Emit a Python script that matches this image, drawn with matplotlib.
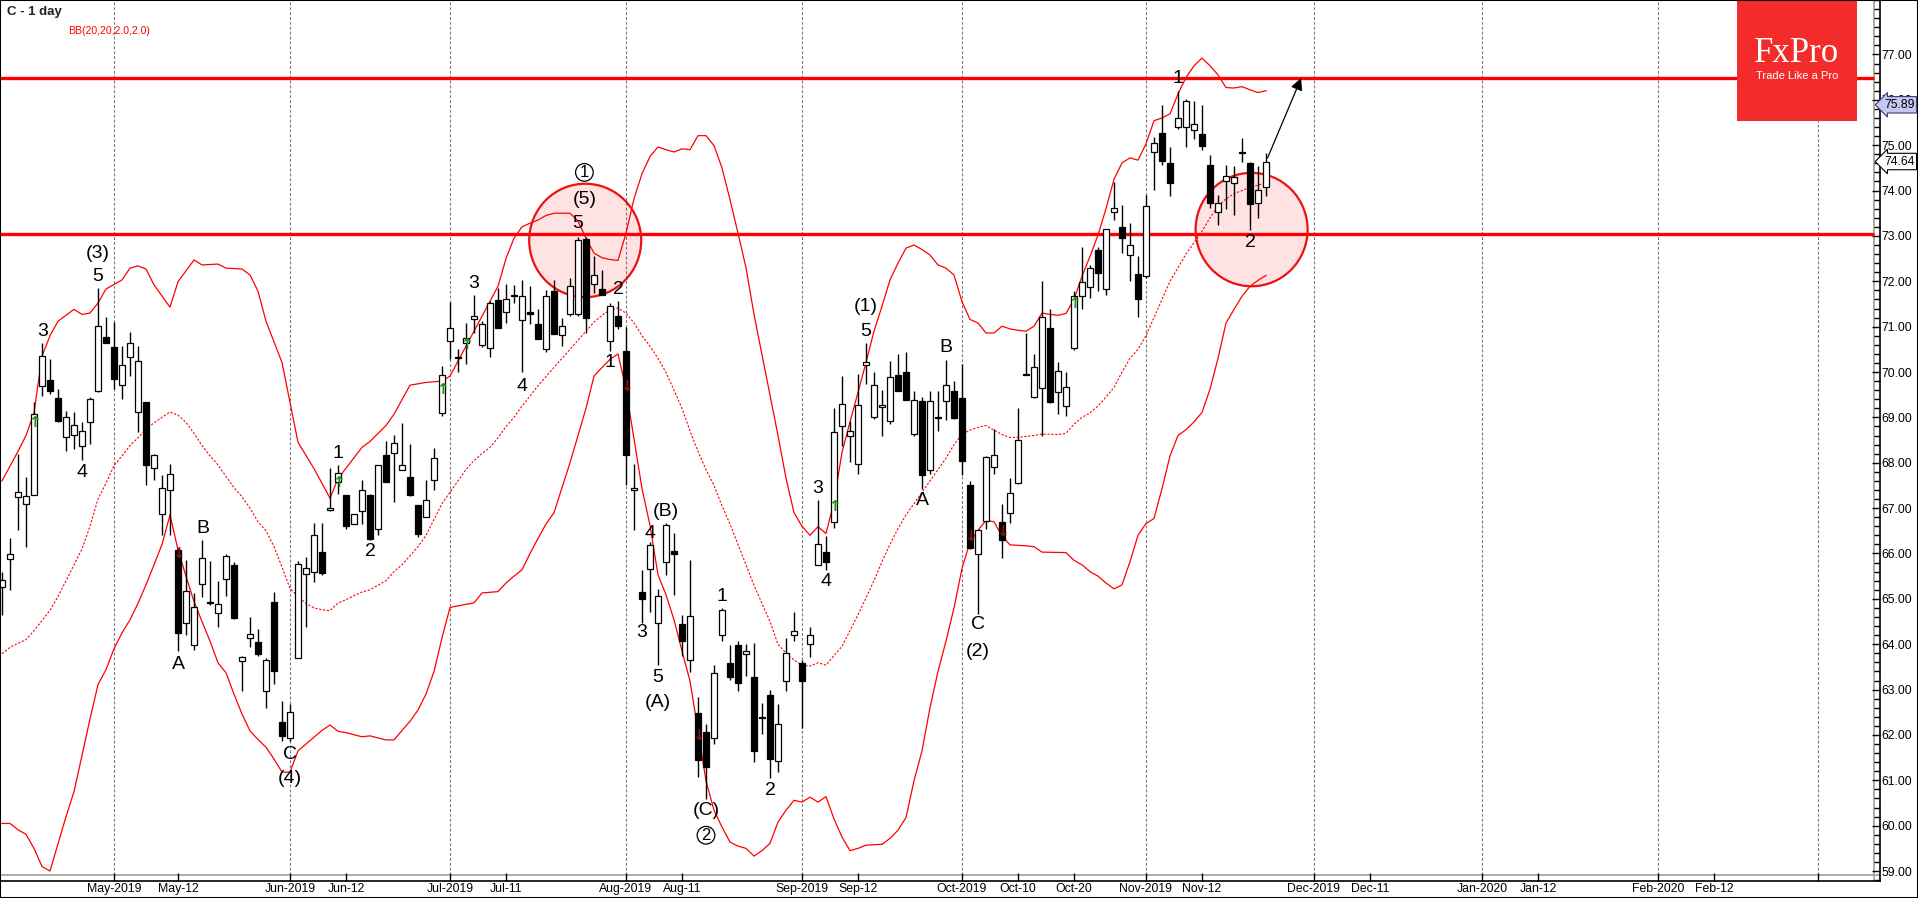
import numpy as np
import matplotlib.pyplot as plt
from matplotlib.patches import Ellipse, Rectangle
from matplotlib.transforms import blended_transform_factory

plt.rcParams['font.family'] = ['Liberation Sans', 'DejaVu Sans']

# daily candles, Citigroup (C), 2019-04-10 .. 2019-11-22 (bar index 0..158)
opens = [65.26, 65.88, 67.25, 67.10, 67.30, 69.69, 69.83, 69.42, 68.56, 68.62,
         68.38, 68.89, 69.58, 70.77, 70.55, 69.72, 70.33, 69.12, 69.33, 67.89,
         66.88, 67.41, 66.08, 64.47, 63.99, 65.33, 64.93, 64.69, 65.44, 65.75,
         63.63, 64.14, 64.06, 62.98, 64.94, 62.29, 61.93, 63.69, 65.55, 65.59,
         66.04, 66.95, 67.57, 67.30, 66.66, 66.93, 67.30, 66.54, 68.16, 68.22,
         67.85, 67.68, 67.06, 66.81, 67.63, 69.10, 70.68, 70.34, 70.63, 71.17,
         70.59, 70.52, 71.58, 71.32, 71.69, 71.14, 71.32, 71.05, 70.50, 71.78,
         70.81, 71.28, 71.27, 72.93, 71.94, 71.83, 70.68, 71.24, 70.46, 67.39,
         65.16, 65.66, 64.47, 65.82, 66.05, 64.45, 63.66, 62.48, 62.06, 61.93,
         64.21, 63.58, 63.99, 63.79, 63.28, 62.37, 62.87, 61.42, 63.20, 64.21,
         63.59, 64.01, 65.75, 66.04, 66.70, 68.80, 68.58, 67.98, 70.16, 69.00,
         69.23, 68.91, 69.93, 69.99, 68.63, 69.37, 67.83, 69.01, 69.37, 69.58,
         69.42, 67.52, 65.99, 66.71, 67.90, 66.70, 66.90, 67.56, 69.96, 69.44,
         69.64, 70.97, 69.55, 69.24, 70.54, 71.67, 71.87, 72.68, 71.84, 73.53,
         73.19, 72.57, 72.16, 72.11, 74.85, 75.27, 74.61, 75.40, 75.40, 75.34,
         75.25, 74.57, 73.53, 74.21, 74.17, 74.85, 74.61, 73.73, 74.08]
highs = [65.60, 66.35, 68.20, 67.68, 69.33, 70.65, 70.29, 69.62, 69.15, 69.12,
         68.89, 69.44, 71.85, 71.21, 71.10, 70.57, 70.88, 70.57, 69.33, 68.20,
         67.73, 67.98, 66.11, 65.86, 65.13, 66.29, 65.83, 65.40, 65.98, 65.82,
         63.74, 64.61, 64.34, 63.70, 65.15, 62.75, 62.69, 65.83, 65.93, 66.68,
         66.68, 67.88, 67.94, 67.30, 66.88, 67.61, 67.32, 67.94, 68.49, 68.61,
         68.87, 68.41, 67.06, 67.61, 68.32, 70.13, 71.54, 70.50, 71.08, 71.70,
         71.12, 71.56, 71.85, 71.94, 71.92, 72.03, 71.89, 71.39, 71.80, 72.03,
         71.19, 72.07, 72.98, 72.98, 72.55, 72.25, 71.52, 71.56, 71.00, 67.98,
         65.64, 66.25, 65.22, 66.68, 66.46, 64.64, 65.86, 62.84, 62.25, 63.55,
         64.80, 63.98, 64.07, 64.01, 64.03, 62.71, 62.99, 62.69, 64.14, 64.72,
         63.66, 64.38, 67.19, 66.39, 69.20, 69.91, 68.93, 69.95, 70.65, 70.00,
         69.61, 70.24, 70.39, 70.44, 69.58, 69.44, 69.58, 69.58, 70.26, 69.80,
         70.17, 67.60, 66.55, 68.14, 68.74, 67.08, 67.66, 69.20, 70.85, 70.39,
         72.00, 71.38, 70.22, 70.01, 71.78, 72.76, 72.36, 72.76, 73.15, 74.19,
         73.69, 73.28, 72.55, 73.90, 75.18, 75.89, 74.96, 76.20, 76.02, 75.97,
         75.89, 74.79, 73.91, 74.56, 74.54, 75.16, 74.63, 74.54, 74.82]
lows = [64.65, 65.20, 66.51, 66.15, 67.28, 69.47, 69.51, 68.90, 68.27, 68.31,
        68.05, 68.42, 69.56, 70.65, 69.62, 69.40, 69.91, 68.67, 67.50, 67.61,
        66.40, 66.40, 63.85, 64.21, 63.88, 65.05, 64.87, 64.39, 65.07, 64.56,
        62.97, 63.93, 63.74, 62.60, 63.12, 61.86, 61.86, 63.69, 64.37, 65.38,
        65.53, 66.93, 67.32, 66.55, 66.66, 66.66, 66.30, 66.41, 67.57, 67.14,
        67.85, 67.27, 66.37, 66.81, 67.41, 69.02, 70.28, 69.99, 70.17, 70.86,
        70.55, 70.32, 70.97, 71.08, 71.52, 69.99, 71.05, 70.72, 70.44, 70.83,
        70.57, 71.23, 71.23, 70.86, 71.74, 71.70, 70.46, 70.94, 67.50, 66.52,
        64.47, 64.72, 63.54, 65.53, 65.09, 63.74, 63.39, 61.08, 60.59, 61.80,
        64.07, 63.22, 62.97, 63.30, 61.40, 62.03, 61.05, 61.18, 62.97, 64.07,
        62.16, 63.71, 65.75, 65.64, 66.57, 68.38, 68.01, 67.76, 69.73, 68.96,
        68.58, 68.85, 69.58, 69.39, 68.60, 67.43, 67.76, 68.71, 68.95, 68.96,
        67.72, 66.10, 64.67, 66.55, 67.76, 65.91, 66.68, 67.54, 69.93, 69.42,
        68.60, 69.31, 69.07, 69.04, 70.48, 71.38, 71.63, 71.78, 71.70, 73.35,
        72.62, 72.01, 71.22, 72.07, 74.01, 74.56, 73.88, 75.36, 74.96, 75.14,
        74.90, 73.61, 73.24, 73.59, 73.46, 74.63, 73.13, 73.40, 73.88]
closes = [65.42, 65.99, 67.36, 67.26, 69.07, 70.35, 69.58, 68.93, 69.01, 68.83,
          68.71, 69.40, 71.01, 70.65, 69.84, 70.15, 70.63, 70.24, 67.95, 68.18,
          67.45, 67.76, 64.25, 65.18, 64.81, 65.91, 64.90, 64.89, 65.94, 64.58,
          63.71, 64.23, 63.79, 63.66, 63.41, 61.98, 62.51, 65.77, 65.67, 66.40,
          65.56, 67.00, 67.78, 66.61, 66.88, 67.41, 66.33, 67.94, 67.57, 68.44,
          67.94, 67.30, 66.42, 67.17, 68.11, 69.93, 70.96, 70.30, 70.74, 71.23,
          71.05, 71.52, 70.97, 71.60, 71.67, 71.67, 71.28, 70.72, 71.67, 70.83,
          71.01, 71.90, 72.90, 71.19, 72.14, 71.70, 71.46, 71.02, 68.18, 67.44,
          65.00, 66.19, 65.07, 66.62, 65.99, 64.08, 64.63, 61.45, 61.30, 63.37,
          64.76, 63.28, 63.15, 63.84, 61.64, 62.39, 61.47, 62.24, 63.81, 64.30,
          63.19, 64.20, 66.21, 65.81, 68.67, 69.29, 68.69, 69.27, 70.22, 69.71,
          69.27, 69.89, 69.58, 69.39, 69.39, 67.74, 69.37, 68.99, 69.71, 68.99,
          68.03, 66.11, 66.51, 68.12, 68.18, 66.30, 67.34, 68.51, 69.94, 70.11,
          71.21, 69.34, 70.02, 69.66, 71.68, 71.99, 72.30, 72.19, 73.15, 73.61,
          72.96, 72.79, 71.60, 73.66, 75.05, 74.65, 74.17, 75.59, 75.97, 75.47,
          74.99, 73.73, 73.73, 74.31, 74.30, 74.83, 73.70, 74.02, 74.64]

# Bollinger bands (20, 2.0)
upper_x = [0, 2, 3, 4, 5, 6, 7, 9, 10, 11, 12, 13, 15, 16, 17, 18, 19, 21, 22, 24,
           25, 27, 28, 30, 31, 32, 33, 35, 36, 37, 39, 41, 42, 45, 46, 48, 49, 51, 53, 55,
           56, 58, 60, 62, 63, 64, 65, 66, 67, 68, 69, 70, 71, 72, 73, 74, 75, 76, 77, 78,
           79, 80, 81, 82, 83, 84, 85, 86, 87, 88, 89, 90, 91, 92, 93, 94, 95, 96, 97, 98,
           99, 100, 101, 102, 103, 104, 105, 106, 107, 108, 109, 110, 111, 112, 113, 114, 115, 116, 117, 118,
           119, 120, 121, 122, 123, 124, 125, 126, 127, 128, 129, 130, 131, 132, 133, 134, 135, 136, 137, 138,
           139, 140, 141, 142, 143, 144, 145, 146, 147, 148, 149, 150, 151, 152, 153, 154, 155, 156, 157, 158]
upper_y = [67.60, 68.25, 68.60, 69.10, 70.35, 70.80, 71.12, 71.38, 71.27, 71.30, 71.52, 71.83, 72.03, 72.29, 72.34, 72.27, 71.92, 71.43, 71.99, 72.47,
           72.36, 72.38, 72.29, 72.27, 72.14, 71.78, 71.12, 70.21, 69.33, 68.45, 67.87, 67.22, 67.65, 68.34, 68.47, 68.82, 69.07, 69.71, 69.77, 69.80,
           69.91, 70.57, 71.23, 71.89, 72.50, 72.95, 73.20, 73.28, 73.35, 73.45, 73.50, 73.50, 73.50, 73.33, 72.95, 72.62, 72.52, 72.48, 72.46, 73.06,
           73.82, 74.37, 74.75, 74.96, 74.90, 74.85, 74.92, 74.90, 75.21, 75.21, 74.99, 74.50, 73.80, 73.06, 72.30, 71.27, 70.38, 69.50, 68.60, 67.66,
           66.90, 66.60, 66.40, 66.59, 66.44, 67.14, 68.23, 68.90, 69.55, 70.21, 70.90, 71.45, 72.03, 72.40, 72.73, 72.80, 72.70, 72.58, 72.36, 72.29,
           72.14, 71.55, 71.16, 71.08, 70.86, 70.86, 71.01, 70.95, 70.92, 70.90, 71.01, 71.30, 71.27, 71.25, 71.29, 71.60, 72.11, 72.55, 73.02, 73.60,
           74.25, 74.61, 74.72, 74.67, 75.03, 75.54, 75.60, 75.69, 76.13, 76.49, 76.75, 76.92, 76.75, 76.55, 76.27, 76.26, 76.29, 76.22, 76.16, 76.20]

mid_x = list(range(0, 159))
mid_y = [63.79, 63.93, 64.02, 64.10, 64.30, 64.52, 64.75, 65.05, 65.40, 65.75,
         66.10, 66.60, 67.20, 67.55, 67.94, 68.15, 68.38, 68.55, 68.74, 68.88,
         69.00, 69.12, 69.05, 68.89, 68.65, 68.38, 68.15, 67.95, 67.70, 67.45,
         67.25, 67.00, 66.70, 66.50, 66.15, 65.70, 65.23, 65.05, 64.90, 64.80,
         64.76, 64.74, 64.91, 64.98, 65.07, 65.15, 65.20, 65.30, 65.40, 65.60,
         65.75, 65.95, 66.15, 66.40, 66.75, 67.10, 67.35, 67.60, 67.85, 68.05,
         68.20, 68.34, 68.55, 68.80, 69.00, 69.25, 69.47, 69.70, 69.90, 70.10,
         70.30, 70.50, 70.70, 70.90, 71.10, 71.25, 71.37, 71.41, 71.30, 71.08,
         70.80, 70.57, 70.30, 69.99, 69.60, 69.20, 68.70, 68.25, 67.85, 67.50,
         67.05, 66.65, 66.20, 65.75, 65.30, 64.90, 64.50, 64.00, 63.80, 63.65,
         63.54, 63.52, 63.59, 63.54, 63.75, 63.95, 64.30, 64.65, 65.02, 65.40,
         65.82, 66.20, 66.55, 66.85, 67.10, 67.35, 67.60, 67.85, 68.10, 68.40,
         68.63, 68.72, 68.78, 68.82, 68.72, 68.62, 68.56, 68.56, 68.58, 68.60,
         68.63, 68.63, 68.62, 68.65, 68.85, 69.00, 69.10, 69.25, 69.45, 69.66,
         70.00, 70.30, 70.50, 70.80, 71.20, 71.60, 72.00, 72.30, 72.60, 72.85,
         73.10, 73.40, 73.65, 73.82, 73.93, 74.00, 74.07, 74.12, 74.17]

lower_x = [0, 1, 2, 3, 4, 5, 6, 7, 8, 9, 10, 11, 12, 13, 14, 15, 16, 17, 18, 19,
           20, 21, 22, 23, 24, 25, 26, 27, 28, 29, 30, 31, 32, 33, 34, 35, 36, 37, 38, 39,
           40, 41, 42, 43, 45, 46, 48, 49, 50, 51, 52, 53, 54, 55, 56, 58, 59, 60, 62, 63,
           64, 65, 66, 67, 68, 69, 70, 71, 72, 73, 74, 75, 76, 77, 78, 79, 80, 81, 82, 83,
           84, 85, 86, 87, 88, 89, 90, 91, 92, 93, 94, 95, 96, 97, 98, 99, 100, 101, 102, 103,
           104, 105, 106, 107, 108, 109, 110, 111, 112, 113, 114, 115, 116, 117, 118, 119, 120, 121, 122, 123,
           124, 125, 126, 128, 129, 130, 133, 134, 135, 136, 137, 138, 139, 140, 141, 142, 143, 144, 145, 146,
           147, 148, 149, 150, 151, 152, 153, 154, 155, 156, 157, 158]
lower_y = [60.05, 60.05, 59.91, 59.81, 59.50, 59.10, 59.00, 59.60, 60.20, 60.75, 61.55, 62.35, 63.11, 63.44, 63.90, 64.25, 64.54, 64.90, 65.31, 65.75,
           66.20, 66.85, 66.08, 65.50, 64.94, 64.50, 64.07, 63.59, 63.37, 62.90, 62.46, 62.09, 61.90, 61.73, 61.47, 61.18, 61.18, 61.65, 61.80, 61.95,
           62.10, 62.22, 62.08, 62.05, 61.96, 61.98, 61.89, 61.89, 62.10, 62.30, 62.55, 62.90, 63.40, 64.14, 64.81, 64.88, 64.91, 65.13, 65.16, 65.35,
           65.50, 65.64, 66.00, 66.33, 66.65, 66.90, 67.45, 68.00, 68.60, 69.20, 69.91, 70.10, 70.28, 70.40, 69.62, 68.52, 67.43, 66.62, 65.53, 65.09,
           64.54, 63.85, 63.19, 62.10, 60.99, 60.34, 59.97, 59.64, 59.55, 59.50, 59.33, 59.45, 59.61, 60.08, 60.34, 60.56, 60.52, 60.63, 60.52, 60.64,
           60.15, 59.75, 59.45, 59.50, 59.57, 59.58, 59.59, 59.72, 59.90, 60.18, 60.99, 61.65, 62.60, 63.40, 64.07, 64.80, 65.67, 66.25, 66.51, 66.73,
           66.70, 66.38, 66.19, 66.17, 66.15, 66.03, 66.02, 65.85, 65.75, 65.60, 65.50, 65.35, 65.22, 65.31, 65.82, 66.40, 66.66, 66.77, 67.43, 68.15,
           68.60, 68.73, 68.90, 69.11, 69.62, 70.30, 71.08, 71.38, 71.67, 71.89, 72.02, 72.13]

# key levels
support_level = 73.05
target_level = 76.47

# x axis: bar index of ticks (trading days, future days continue on weekdays)
tick_pos = [14, 22, 36, 43, 56, 63, 78, 85, 100, 107, 120, 127, 134, 143, 150,
            164, 171, 185, 192, 207, 214, 227]
tick_text = ['May-2019', 'May-12', 'Jun-2019', 'Jun-12', 'Jul-2019', 'Jul-11',
             'Aug-2019', 'Aug-11', 'Sep-2019', 'Sep-12', 'Oct-2019', 'Oct-10',
             'Oct-20', 'Nov-2019', 'Nov-12', 'Dec-2019', 'Dec-11', 'Jan-2020',
             'Jan-12', 'Feb-2020', 'Feb-12', '']
month_starts = [14, 36, 56, 78, 100, 120, 143, 164, 185, 207, 227]

# Elliott wave labels
wave_text = ['(3)', '5', '3', '4', 'A', 'B', 'C', '(4)', '1', '2', '3', '4',
             '(5)', '5', '2', '1', '3', '4', '5', '(A)', '(B)', '1', '(C)', '2',
             '3', '4', '(1)', '5', 'A', 'B', 'C', '(2)', '1', '2']
wave_x = [12, 12, 5.1, 10, 22, 25.1, 36, 36, 42, 46, 59, 65,
          72.8, 71.9, 77, 76, 80, 81, 82, 82, 83, 90, 88, 96,
          102, 103, 108, 108, 115, 118, 122, 122, 147, 156]
wave_y = [72.62, 72.11, 70.90, 67.78, 63.55, 66.55, 61.58, 61.03, 68.20, 66.04, 71.96, 69.69,
          73.81, 73.28, 71.81, 70.22, 64.25, 66.44, 63.26, 62.71, 66.93, 65.05, 60.34, 60.78,
          67.43, 65.38, 71.45, 70.90, 67.17, 70.53, 64.43, 63.85, 76.46, 72.85]
circled_text = ['1', '2']
circled_x = [72.8, 88]
circled_y = [74.40, 59.79]

# band signal arrows
buy_x = [4, 42, 55, 58, 104, 134]
buy_y = [68.89, 67.57, 69.62, 70.61, 67.03, 71.52]
sell_x = [22, 78, 87, 121, 125]
sell_y = [66.00, 69.69, 61.98, 66.37, 66.48]

circle_x = [72.9, 156.2]
circle_y = [72.90, 73.14]

arrow_from = (158.2, 74.72)
arrow_to = (162.4, 76.48)

W, H = 1918, 898
fig = plt.figure(figsize=(W / 100, H / 100), dpi=100)
fig.patch.set_facecolor('white')
ax = fig.add_axes([0, 17 / H, 1880 / W, 881 / H])
ax.set_xlim(-0.25, 234.75)
ax.set_ylim(58.781, 78.101)

for s in ax.spines.values():
    s.set_color('black')
    s.set_linewidth(1.2)

# inner plot frame
ax.axvline(234.0, color='#a8a898', lw=1.3, zorder=1)
ax.axhline(58.912, color='#a8a898', lw=1.3, zorder=1)

for m in month_starts:
    ax.plot([m, m], [58.912, 78.2], color='#7a7a7a', lw=0.8,
            dashes=(2.6, 1.8), zorder=1)

# key horizontal levels
ax.hlines([support_level, target_level], -0.25, 234.0, color='#ff0000', lw=2.4, zorder=2)

# bollinger bands
ax.plot(upper_x, upper_y, color='#ff0000', lw=0.9, zorder=2)
ax.plot(lower_x, lower_y, color='#ff0000', lw=0.9, zorder=2)
ax.plot(mid_x, mid_y, color='#ff0000', lw=0.8, dashes=(2, 1.5), zorder=2)

# highlight circles
for cx, cy in zip(circle_x, circle_y):
    ax.add_patch(Ellipse((cx, cy), width=14, height=2.5, facecolor=(1, 0, 0, 0.11),
                         edgecolor='#ee1111', lw=1.6, zorder=2.5))

# candles
x = np.arange(len(closes))
o = np.array(opens)
c = np.array(closes)
up = c >= o
bottoms = np.minimum(o, c)
heights = np.maximum(np.abs(c - o), 0.02)
ax.vlines(x, lows, highs, color='black', lw=1.0, zorder=3)
ax.bar(x[up], heights[up], bottom=bottoms[up], width=0.72, facecolor='white',
       edgecolor='black', lw=0.9, zorder=4)
ax.bar(x[~up], heights[~up], bottom=bottoms[~up], width=0.72, facecolor='black',
       edgecolor='black', lw=0.9, zorder=4)

# signal arrows
for bx, by in zip(buy_x, buy_y):
    ax.text(bx, by, '\u2191', color='#1a8f1a', fontsize=11, fontweight='bold',
            ha='center', va='center', family='DejaVu Sans', zorder=5)
for sx, sy in zip(sell_x, sell_y):
    ax.text(sx, sy, '\u2193', color='#8b1010', fontsize=11, fontweight='bold',
            ha='center', va='center', family='DejaVu Sans', zorder=5)

# wave labels
for t, wx, wy in zip(wave_text, wave_x, wave_y):
    ax.text(wx, wy, t, fontsize=14, ha='center', va='center', color='black', zorder=6)
for t, wx, wy in zip(circled_text, circled_x, circled_y):
    ax.text(wx, wy, t, fontsize=12, ha='center', va='center', color='black', zorder=6,
            bbox=dict(boxstyle='circle,pad=0.08', fc='none', ec='black', lw=0.9))

ax.annotate('', xy=arrow_to, xytext=arrow_from,
            arrowprops=dict(arrowstyle='-|>', color='black', lw=0.9,
                            mutation_scale=18, shrinkA=0, shrinkB=0), zorder=6)

# axes ticks (drawn inward, between the inner frame and the axis line)
ax.yaxis.tick_right()
ax.set_yticks(np.arange(59, 78))
ax.set_yticklabels(['%.2f' % v for v in np.arange(59, 78)])
ax.set_yticks(np.arange(58.8, 78.2, 0.2), minor=True)
ax.tick_params(axis='y', which='major', direction='in', length=6, width=1, pad=1.2,
               labelsize=8.8, colors='black')
ax.tick_params(axis='y', which='minor', direction='in', length=4, width=1)
ax.set_xticks(tick_pos)
ax.set_xticklabels(tick_text)
ax.tick_params(axis='x', which='major', direction='in', length=6, width=1, pad=1.5,
               labelsize=8.8)

# title and indicator name
fig.text(7 / W, 1 - 12 / H, 'C - 1 day', fontsize=9.5, fontweight='bold',
         color='#222222', ha='left', va='center')
fig.text(68 / W, 1 - 31 / H, 'BB(20,20,2.0,2.0)', fontsize=7.6, color='#ff0000',
         ha='left', va='center')

# price markers on the axis
trans = blended_transform_factory(fig.transFigure, ax.transData)
ax.text(1884 / W, 75.89, '75.89', transform=trans, fontsize=8.8, ha='left',
        va='center', clip_on=False, zorder=10,
        bbox=dict(boxstyle='larrow,pad=0.18', fc='#c6c6f2', ec='#3a3a7a', lw=0.8))
ax.text(1884 / W, 74.64, '74.64', transform=trans, fontsize=8.8, ha='left',
        va='center', clip_on=False, zorder=10,
        bbox=dict(boxstyle='larrow,pad=0.18', fc='white', ec='black', lw=0.8))

# logo
fig.patches.append(Rectangle((1737 / W, 1 - 121 / H), 120 / W, 121 / H,
                             transform=fig.transFigure, facecolor='#f42b2b',
                             edgecolor='none', zorder=20))
fig.text(1797 / W, 1 - 53 / H, 'FxPro', fontsize=25, family='Liberation Serif',
         color='white', ha='center', va='center', zorder=21)
fig.text(1797 / W, 1 - 76 / H, 'Trade Like a Pro', fontsize=8, color='white',
         ha='center', va='center', zorder=21)

# outer frame
fig.patches.append(Rectangle((0, 0), 1, 1, transform=fig.transFigure,
                             facecolor='none', edgecolor='black', lw=1.5, zorder=30))

fig.savefig('out.png', dpi=100)
